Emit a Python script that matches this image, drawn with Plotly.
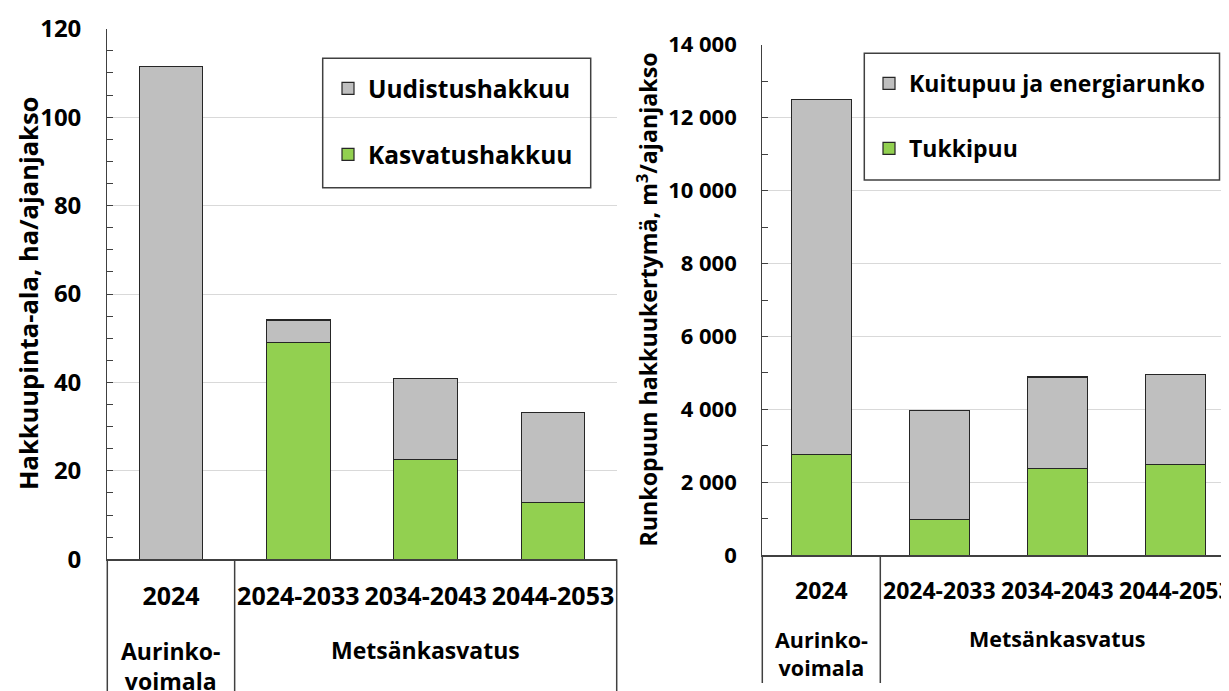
import plotly.graph_objects as go

# ---------------- data ----------------
periods = ["2024", "2024-2033", "2034-2043", "2044-2053"]
groups = ["Aurinko-<br>voimala", "Metsänkasvatus"]
group_members = [[0], [1, 2, 3]]          # indices into periods

# Left chart: Hakkuupinta-ala, ha/ajanjakso
area_names = ["Kasvatushakkuu", "Uudistushakkuu"]
area_thinning = [0, 49.0, 22.5, 12.8]      # Kasvatushakkuu
area_regen = [111.5, 5.1, 18.4, 20.4]      # Uudistushakkuu

# Right chart: Runkopuun hakkuukertymä, m3/ajanjakso
vol_names = ["Tukkipuu", "Kuitupuu ja energiarunko"]
vol_log = [2770, 990, 2390, 2490]          # Tukkipuu
vol_pulp = [9730, 2970, 2500, 2460]        # Kuitupuu ja energiarunko

left_title = "Hakkuupinta-ala, ha/ajanjakso"
right_title = "Runkopuun hakkuukertymä, m<sup>3</sup>/ajanjakso"

# ---------------- styling ----------------
VIEW_W, VIEW_H = 1229, 691
OFF = 8                      # page body margin
W, H = VIEW_W - OFF, VIEW_H - OFF
FONT = "Open Sans"
GREEN = "#92d050"
GREY = "#bfbfbf"
EDGE = "#262626"
AX = "#404040"
GRID = "#d9d9d9"


def fx(p):
    return (p - OFF) / W


def fy(p):
    return 1 - (p - OFF) / H


def bold(size):
    return dict(family=FONT, size=size, color="black", weight="bold")


fig = go.Figure()

# left
fig.add_trace(go.Bar(x=periods, y=area_thinning, name=area_names[0], marker=dict(color=GREEN, line=dict(color=EDGE, width=1.2)),
                     width=0.5, xaxis="x", yaxis="y", legend="legend", legendgroup="a1", legendrank=2))
fig.add_trace(go.Bar(x=periods, y=area_regen, name=area_names[1], marker=dict(color=GREY, line=dict(color=EDGE, width=1.2)),
                     width=0.5, xaxis="x", yaxis="y", legend="legend", legendgroup="a2", legendrank=1))
# right
fig.add_trace(go.Bar(x=periods, y=vol_log, name=vol_names[0], marker=dict(color=GREEN, line=dict(color=EDGE, width=1.2)),
                     width=0.51, xaxis="x2", yaxis="y2", legend="legend2", legendgroup="b1", legendrank=2))
fig.add_trace(go.Bar(x=periods, y=vol_pulp, name=vol_names[1], marker=dict(color=GREY, line=dict(color=EDGE, width=1.2)),
                     width=0.51, xaxis="x2", yaxis="y2", legend="legend2", legendgroup="b2", legendrank=1))

xcommon = dict(type="category", showline=True, linecolor=AX, linewidth=1.5, ticks="", showgrid=False,
               zeroline=False, ticklabelstandoff=14, fixedrange=True, automargin=False, tickangle=0)
ycommon = dict(showline=True, linecolor=AX, linewidth=1.3, ticks="inside", ticklen=6, tickcolor=AX, tickwidth=1.2,
               showgrid=True, gridcolor=GRID, gridwidth=1, zeroline=False,
               ticklabelstandoff=20, fixedrange=True, automargin=False)

L_x0, L_x1, L_ytop, L_y0 = 107.3, 616.7, 28.7, 559.3
R_x0, R_ytop, R_y0, R_cat = 762.3, 44.7, 555.3, 118.0
r_range_hi = -0.5 + (VIEW_W - R_x0) / R_cat

fig.update_layout(
    width=W, height=H, margin=dict(l=0, r=0, t=0, b=0, autoexpand=False),
    paper_bgcolor="white", plot_bgcolor="white",
    barmode="stack", separators=". ", showlegend=True,
    xaxis=dict(xcommon, domain=[fx(L_x0), fx(L_x1)], range=[-0.5, 3.5], anchor="y", tickfont=bold(25)),
    yaxis=dict(ycommon, domain=[fy(L_y0), fy(L_ytop)], range=[0, 120], dtick=20, tickfont=bold(24),
               minor=dict(dtick=5, ticks="inside", ticklen=6, tickcolor=AX, showgrid=False), anchor="x"),
    xaxis2=dict(xcommon, domain=[fx(R_x0), 1.0], range=[-0.5, r_range_hi], anchor="y2", tickfont=bold(23)),
    yaxis2=dict(ycommon, domain=[fy(R_y0), fy(R_ytop)], range=[0, 14000], dtick=2000, tickformat=",d",
                tickfont=bold(22),
                minor=dict(dtick=1000, ticks="inside", ticklen=6, tickcolor=AX, showgrid=False), anchor="x2"),
    legend=dict(x=fx(328), y=fy(66), xanchor="left", yanchor="top", bgcolor="rgba(0,0,0,0)", borderwidth=0,
                font=bold(24.5), tracegroupgap=31),
    legend2=dict(x=fx(869), y=fy(62), xanchor="left", yanchor="top", bgcolor="rgba(0,0,0,0)", borderwidth=0,
                 font=bold(23), tracegroupgap=32),
)

shapes = []
# legend frames
shapes.append(dict(type="rect", xref="paper", yref="paper", x0=fx(322.7), x1=fx(590.7), y0=fy(187.7), y1=fy(58.3),
                   line=dict(color=AX, width=1.5), fillcolor="rgba(0,0,0,0)", layer="above"))
shapes.append(dict(type="rect", xref="paper", yref="paper", x0=fx(864.3), x1=fx(1219.5), y0=fy(180), y1=fy(53.3),
                   line=dict(color=AX, width=1.5), fillcolor="rgba(0,0,0,0)", layer="above"))


# category group dividers (multi-level axis box)
def boundaries():
    b = [min(m) - 0.5 for m in group_members]
    b.append(max(group_members[-1]) + 0.5)
    return b


for b in boundaries():
    fracL = (b + 0.5) / 4.0
    shapes.append(dict(type="line", xref="x domain", yref="paper", x0=fracL, x1=fracL, y0=fy(L_y0), y1=fy(VIEW_H + 5),
                       line=dict(color=AX, width=1.5)))
    fracR = (b + 0.5) / (r_range_hi + 0.5)
    if fracR <= 1.0:
        shapes.append(dict(type="line", xref="x2 domain", yref="paper", x0=fracR, x1=fracR, y0=fy(R_y0), y1=fy(683),
                           line=dict(color=AX, width=1.5)))
fig.update_layout(shapes=shapes)

annotations = []
for g, members in zip(groups, group_members):
    center = sum(members) / len(members)
    two = "<br>" in g
    annotations.append(dict(text=g, xref="x", yref="paper", x=center, y=fy(666 if two else 650),
                            xanchor="center", yanchor="middle", showarrow=False, font=bold(23), align="center"))
    annotations.append(dict(text=g, xref="x2", yref="paper", x=center, y=fy(653 if two else 638),
                            xanchor="center", yanchor="middle", showarrow=False, font=bold(21.5), align="center"))

annotations.append(dict(text=left_title, xref="paper", yref="paper", x=fx(28), y=fy(294), textangle=-90,
                        xanchor="center", yanchor="middle", showarrow=False, font=bold(25.5)))
annotations.append(dict(text=right_title, xref="paper", yref="paper", x=fx(647.5), y=fy(300), textangle=-90,
                        xanchor="center", yanchor="middle", showarrow=False, font=bold(23.2)))
fig.update_layout(annotations=annotations)

fig.write_html("out.html")
